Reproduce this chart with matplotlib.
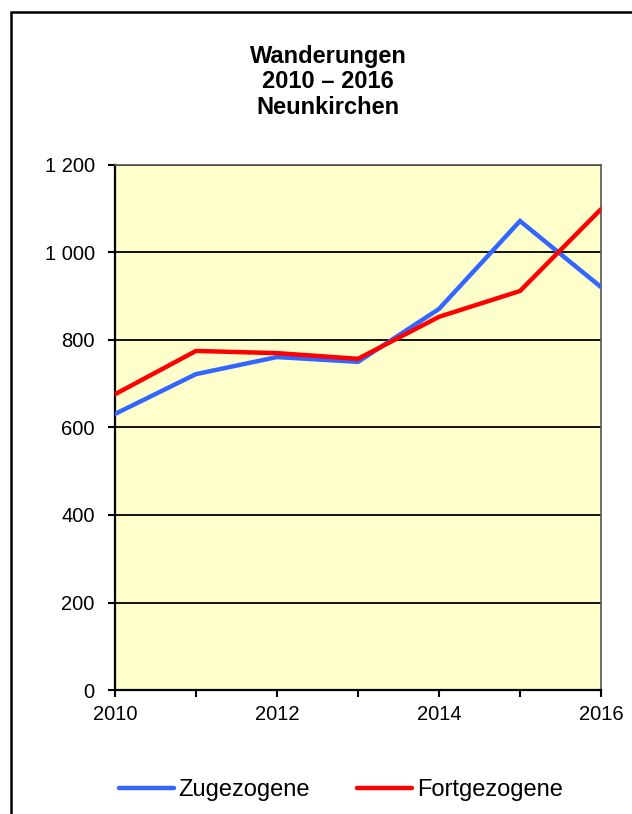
import matplotlib
matplotlib.use("Agg")
import matplotlib.pyplot as plt
from matplotlib.patches import Rectangle

years = [2010, 2011, 2012, 2013, 2014, 2015, 2016]
zugezogene = [631, 722, 761, 750, 871, 1072, 921]
fortgezogene = [676, 775, 770, 757, 853, 912, 1099]
y_ticks = [0, 200, 400, 600, 800, 1000, 1200]
y_tick_labels = ["0", "200", "400", "600", "800", "1 000", "1 200"]
x_ticks = [2010, 2012, 2014, 2016]
title_text = "Wanderungen\n2010 – 2016\nNeunkirchen"
series_names = ["Zugezogene", "Fortgezogene"]

plt.rcParams['font.family'] = ['Liberation Sans', 'DejaVu Sans']

W, H = 632, 814
fig = plt.figure(figsize=(W / 100, H / 100), dpi=100)
fig.patch.set_facecolor("white")

# outer frame (right/bottom edges lie outside the image)
fig.patches.append(Rectangle((11 / W, -0.1), 1.0, (814 - 12) / H + 0.1,
                             transform=fig.transFigure, fill=False,
                             edgecolor="black", linewidth=1.8, clip_on=False))

ax = fig.add_axes([115 / W, 1 - 690 / H, (601 - 115) / W, (690 - 165) / H])
ax.set_facecolor("#FFFFCC")

l1, = ax.plot(years, zugezogene, color="#3366FF", linewidth=3.2,
              solid_capstyle="round", solid_joinstyle="miter", zorder=3)
l2, = ax.plot(years, fortgezogene, color="#FF0000", linewidth=3.2,
              solid_capstyle="round", solid_joinstyle="miter", zorder=4)

ax.set_xlim(2010, 2016)
ax.set_ylim(0, 1200)
ax.set_yticks(y_ticks)
ax.set_yticklabels(y_tick_labels)
ax.set_xticks(years, minor=False)
ax.set_xticklabels([str(y) if y in x_ticks else "" for y in years])
ax.grid(axis="y", color="black", linewidth=1.3, zorder=1)
ax.set_axisbelow(True)

for s in ax.spines.values():
    s.set_linewidth(1.6)
    s.set_color("black")
ax.spines["top"].set_color("#555555")
ax.spines["right"].set_color("#555555")
ax.spines["top"].set_linewidth(1.2)
ax.spines["right"].set_linewidth(1.2)

ax.tick_params(axis="both", direction="out", length=5, width=1.5,
               labelsize=14.5, colors="black")
ax.tick_params(axis="y", pad=9.5)
ax.tick_params(axis="x", pad=6)

fig.text(328 / W, 1 - 82 / H, title_text, ha="center", va="center",
         fontsize=17, fontweight="bold", linespacing=1.13)

fig.legend([l1, l2], series_names, loc="center", ncol=2,
           bbox_to_anchor=(341 / W, 1 - 790 / H), frameon=False,
           fontsize=17, handlelength=2.33, handletextpad=0.21,
           columnspacing=2.0, borderpad=0.0)

fig.savefig("out.png", dpi=100)
